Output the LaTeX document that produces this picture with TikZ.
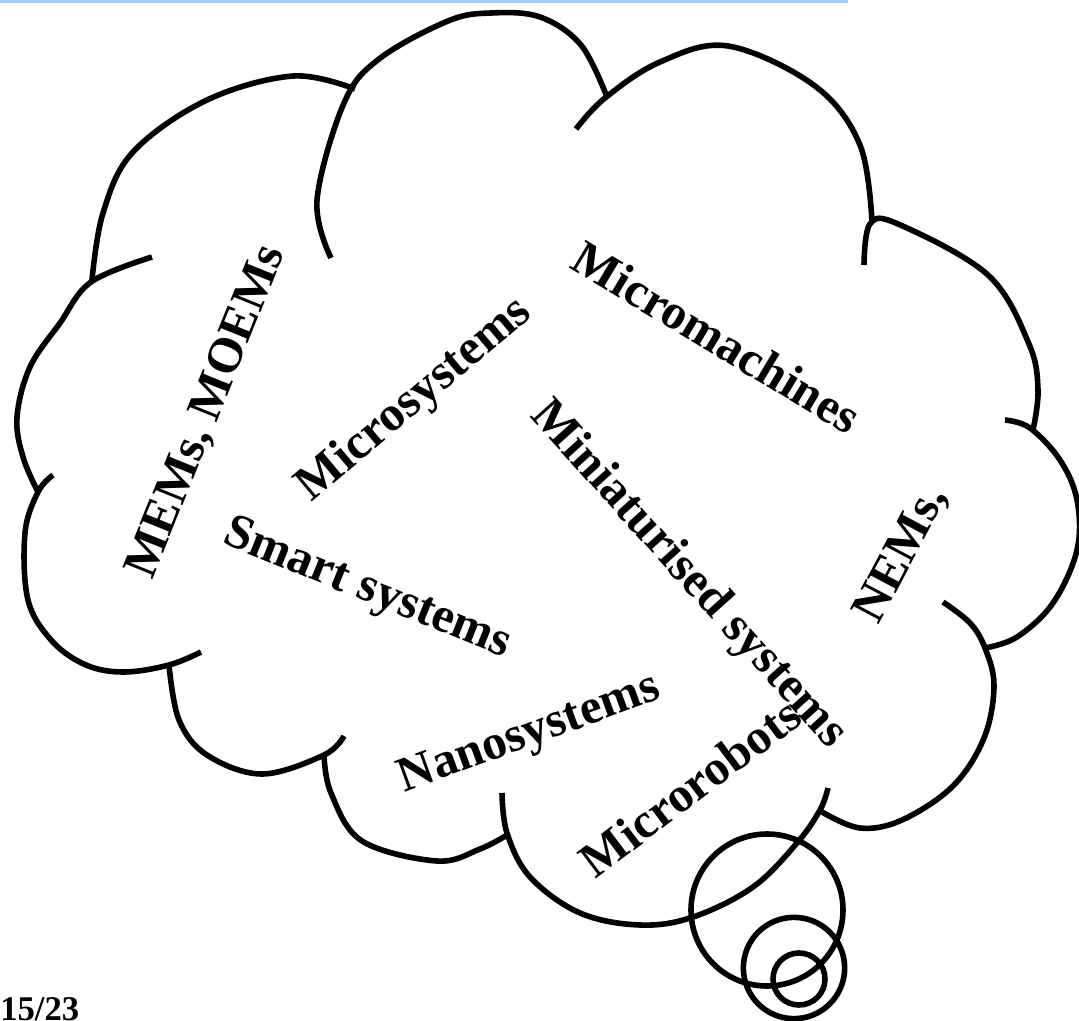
\documentclass[tikz,border=0pt]{standalone}
\usepackage{fontspec}
\setmainfont{Liberation Serif}
\usepackage{tikz}

\tikzset{
	lobe/.style={line width=4.2pt},
	term/.style={font=\bfseries\fontsize{37}{44}\selectfont, inner sep=0pt},
	bubble/.style={circle, draw, line width=4.2pt, inner sep=0pt}
}

\begin{document}
\begin{tikzpicture}[x=0.75pt,y=-0.75pt]
			\useasboundingbox (0,0) rectangle (1079,1021);
			\draw[line width=2.6pt, color={rgb,255:red,153;green,204;blue,255}] (0,1.7) -- (848,1.7);
			% cloud lobes, clockwise from the upper left
			\draw[lobe] plot[smooth, tension=0.6] coordinates {(92,280) (103,213) (133,152) (207,100) (293,76) (355,89)};
			\draw[lobe] plot[smooth, tension=0.6] coordinates {(331,258) (317,200) (344,103) (379,59) (448,21) (491,13) (540,17) (581,45) (607,97)};
			\draw[lobe] plot[smooth, tension=0.6] coordinates {(576,129) (605,98) (660,62) (728,46) (815,86) (860,145) (872,222)};
			\draw[lobe] plot[smooth, tension=0.6] coordinates {(864,265) (870,224) (898,224) (988,275) (1029,344) (1038,390) (1033,430)};
			\draw[lobe] plot[smooth, tension=0.6] coordinates {(1005,420) (1030,428) (1060,460) (1077,500) (1077,550) (1053,603) (1017,637) (985,648)};
			\draw[lobe] plot[smooth, tension=0.6] coordinates {(943,602) (970,623) (985,648) (994,686) (984,738) (953,786) (902,820) (860,828) (822,812)};
			\draw[lobe] plot[smooth, tension=0.6] coordinates {(828,788) (820,810) (797,843) (753,887) (693,917) (640,925) (580,913) (530,877) (507,833) (502,793)};
			\draw[lobe] plot[smooth, tension=0.6] coordinates {(324,755) (331,793) (362,841) (437,861) (480,849) (507,835)};
			\draw[lobe] plot[smooth, tension=0.6] coordinates {(169,665) (179,720) (207,755) (262,774) (324,755) (344,736)};
			\draw[lobe] plot[smooth, tension=0.6] coordinates {(53,475) (38,492) (25,533) (28,600) (52,641) (86,665) (124,672) (169,665) (201,652)};
			\draw[lobe] plot[smooth, tension=0.6] coordinates {(38,492) (23,457) (17,417) (30,367) (60,323) (91,282) (152,257)};
			% thought bubbles
			\draw (767,910) node [bubble, minimum size=114pt] (big) {};
			\draw (794,968) node [bubble, minimum size=76pt] (mid) {};
			\draw (799,979) node [bubble, minimum size=39pt] (small) {};
			% terms
			\draw (207,412) node [term, rotate=68] (mems) {MEMs, MOEMs};
			\draw (415,400) node [term, rotate=40] (microsys) {Microsystems};
			\draw (717,337) node [term, rotate=-31] (micromach) {Micromachines};
			\draw (688,575) node [term, rotate=-48] (mini) {Miniaturised systems};
			\draw (902,555) node [term, rotate=62] (nems) {NEMs,};
			\draw (367,590) node [term, rotate=-22] (smart) {Smart systems};
			\draw (530,735) node [term, rotate=20] (nano) {Nanosystems};
			\draw (690,787) node [term, rotate=37] (robots) {Microrobots};
			\draw (0,1020) node [anchor=base west, inner sep=0pt, font=\bfseries\fontsize{26}{30}\selectfont] (page) {15/23};
		\end{tikzpicture}
\end{document}
